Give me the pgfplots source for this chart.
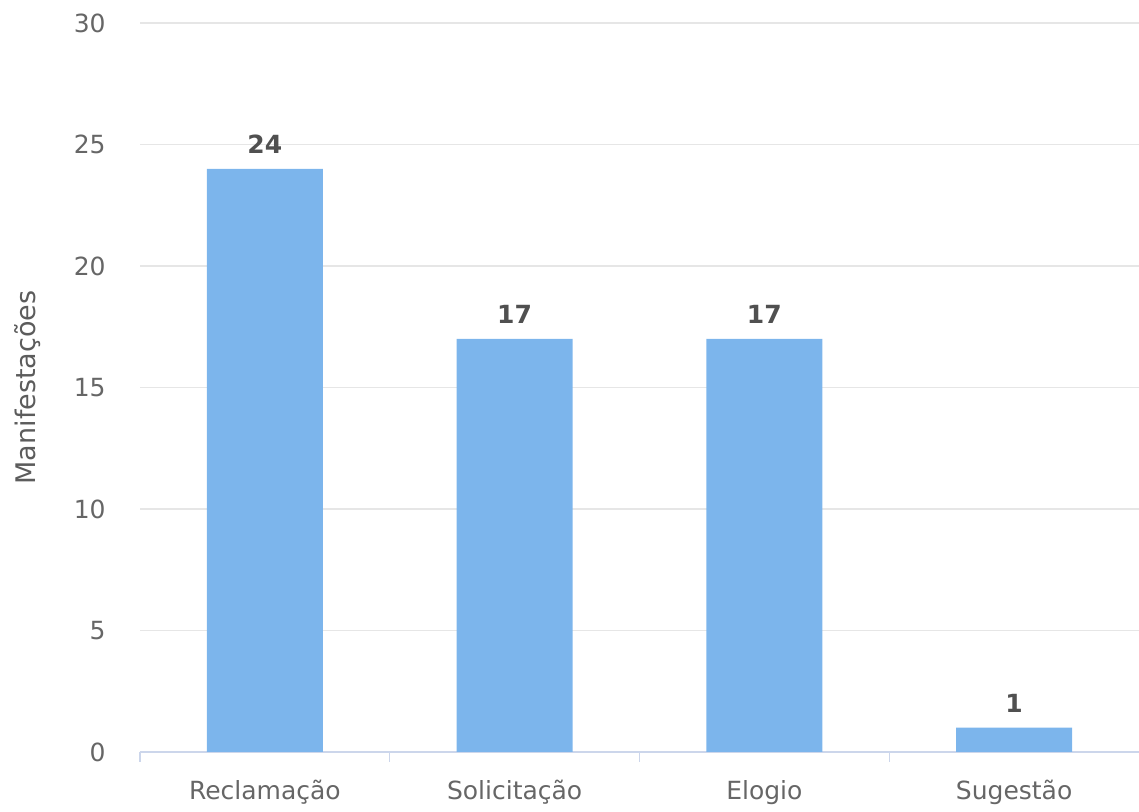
\documentclass[border=0pt]{standalone}
\usepackage{fontspec}
\setmainfont{DejaVu Sans}
\usepackage{pgfplots}
\pgfplotsset{compat=1.18}
\definecolor{barc}{HTML}{7CB5EC}
\definecolor{axisc}{HTML}{CCD6EB}
\definecolor{gridc}{HTML}{E6E6E6}
\definecolor{labc}{HTML}{666666}
\definecolor{valc}{HTML}{505050}
\begin{document}
\begin{tikzpicture}
\useasboundingbox (0,0) rectangle (569.5pt,406pt);
\begin{axis}[
  at={(70pt,30pt)}, anchor=south west,
  scale only axis, width=499.5pt, height=364.5pt,
  xmin=-0.5, xmax=3.5, ymin=0, ymax=30,
  ytick={0,5,...,30},
  xtick={0,1,2,3},
  xticklabels={Reclamação,Solicitação,Elogio,Sugestão},
  major tick length=0pt,
  extra x ticks={-0.5,0.5,1.5,2.5},
  extra x tick labels={},
  extra x tick style={major tick length=5pt, tick align=outside,
    tick style={color=axisc, line width=0.6pt}},
  axis x line*=bottom, axis y line*=left,
  y axis line style={draw=none},
  x axis line style={draw=axisc, line width=0.6pt, -},
  ymajorgrids, grid style={gridc, line width=0.6pt},
  /pgf/number format/assume math mode=true,
  ticklabel style={font=\fontsize{12.5}{15}\selectfont, text=labc},
  yticklabel style={anchor=east, inner sep=0pt, xshift=-17pt},
  xticklabel style={anchor=base, inner sep=0pt, yshift=-24pt},
  ylabel={Manifestações},
  ylabel style={at={(axis description cs:-0.112,0.5)}, anchor=center,
    font=\fontsize{13.5}{16}\selectfont, text=labc!90!black},
  nodes near coords,
  every node near coord/.append style={anchor=base, inner sep=0pt, yshift=7.5pt,
    font=\bfseries\fontsize{12.5}{15}\selectfont, text=valc},
  clip=false,
]
\addplot[ybar, bar width=0.464, fill=barc, draw=none] coordinates {(0,24) (1,17) (2,17) (3,1)};
\end{axis}
\end{tikzpicture}
\end{document}
